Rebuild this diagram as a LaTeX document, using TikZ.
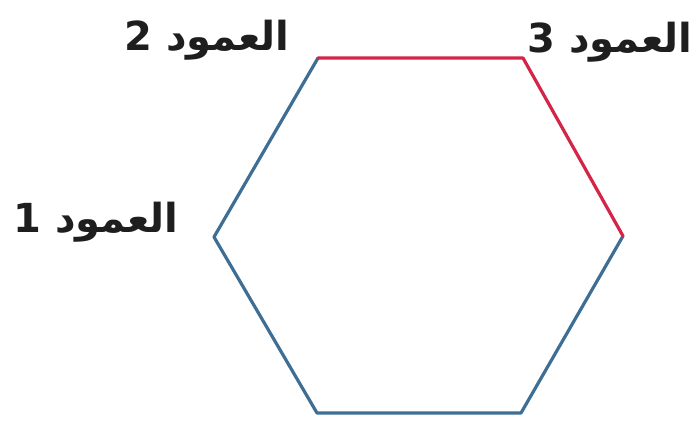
\documentclass[tikz,border=0pt]{standalone}
\usepackage{fontspec}
\newfontfamily\arabicfont[Script=Arabic]{DejaVu Sans}
\TeXXeTstate=1
\definecolor{edgeblue}{HTML}{3E6E94}
\definecolor{edgered}{HTML}{D42448}
\definecolor{labelgray}{HTML}{1E1E1E}
\begin{document}
\begin{tikzpicture}[x=1pt,y=1pt,
  blueedge/.style={draw=edgeblue,line width=3.2pt,line cap=round,line join=round},
  rededge/.style={draw=edgered,line width=3.2pt,line cap=round,line join=round},
  lbl/.style={inner sep=0pt,text=labelgray,font=\arabicfont\bfseries\fontsize{40}{42}\selectfont}]
\useasboundingbox (0,0) rectangle (698,425);
\fill[white] (0,0) rectangle (698,425);
\coordinate (L)  at (214,188);
\coordinate (TL) at (318,367);
\coordinate (TR) at (523,367);
\coordinate (R)  at (623,189);
\coordinate (BR) at (521,12);
\coordinate (BL) at (317,12);
\draw[blueedge] (TL) -- (L) -- (BL) -- (BR) -- (R);
\draw[rededge] (TL) -- (TR) -- (R);
\node[lbl] (c2) at (207,385) {\beginR العمود 2\endR};
\node[lbl] (c3) at (610,383) {\beginR العمود 3\endR};
\node[lbl] (c1) at (96,203) {\beginR العمود 1\endR};
\end{tikzpicture}
\end{document}
